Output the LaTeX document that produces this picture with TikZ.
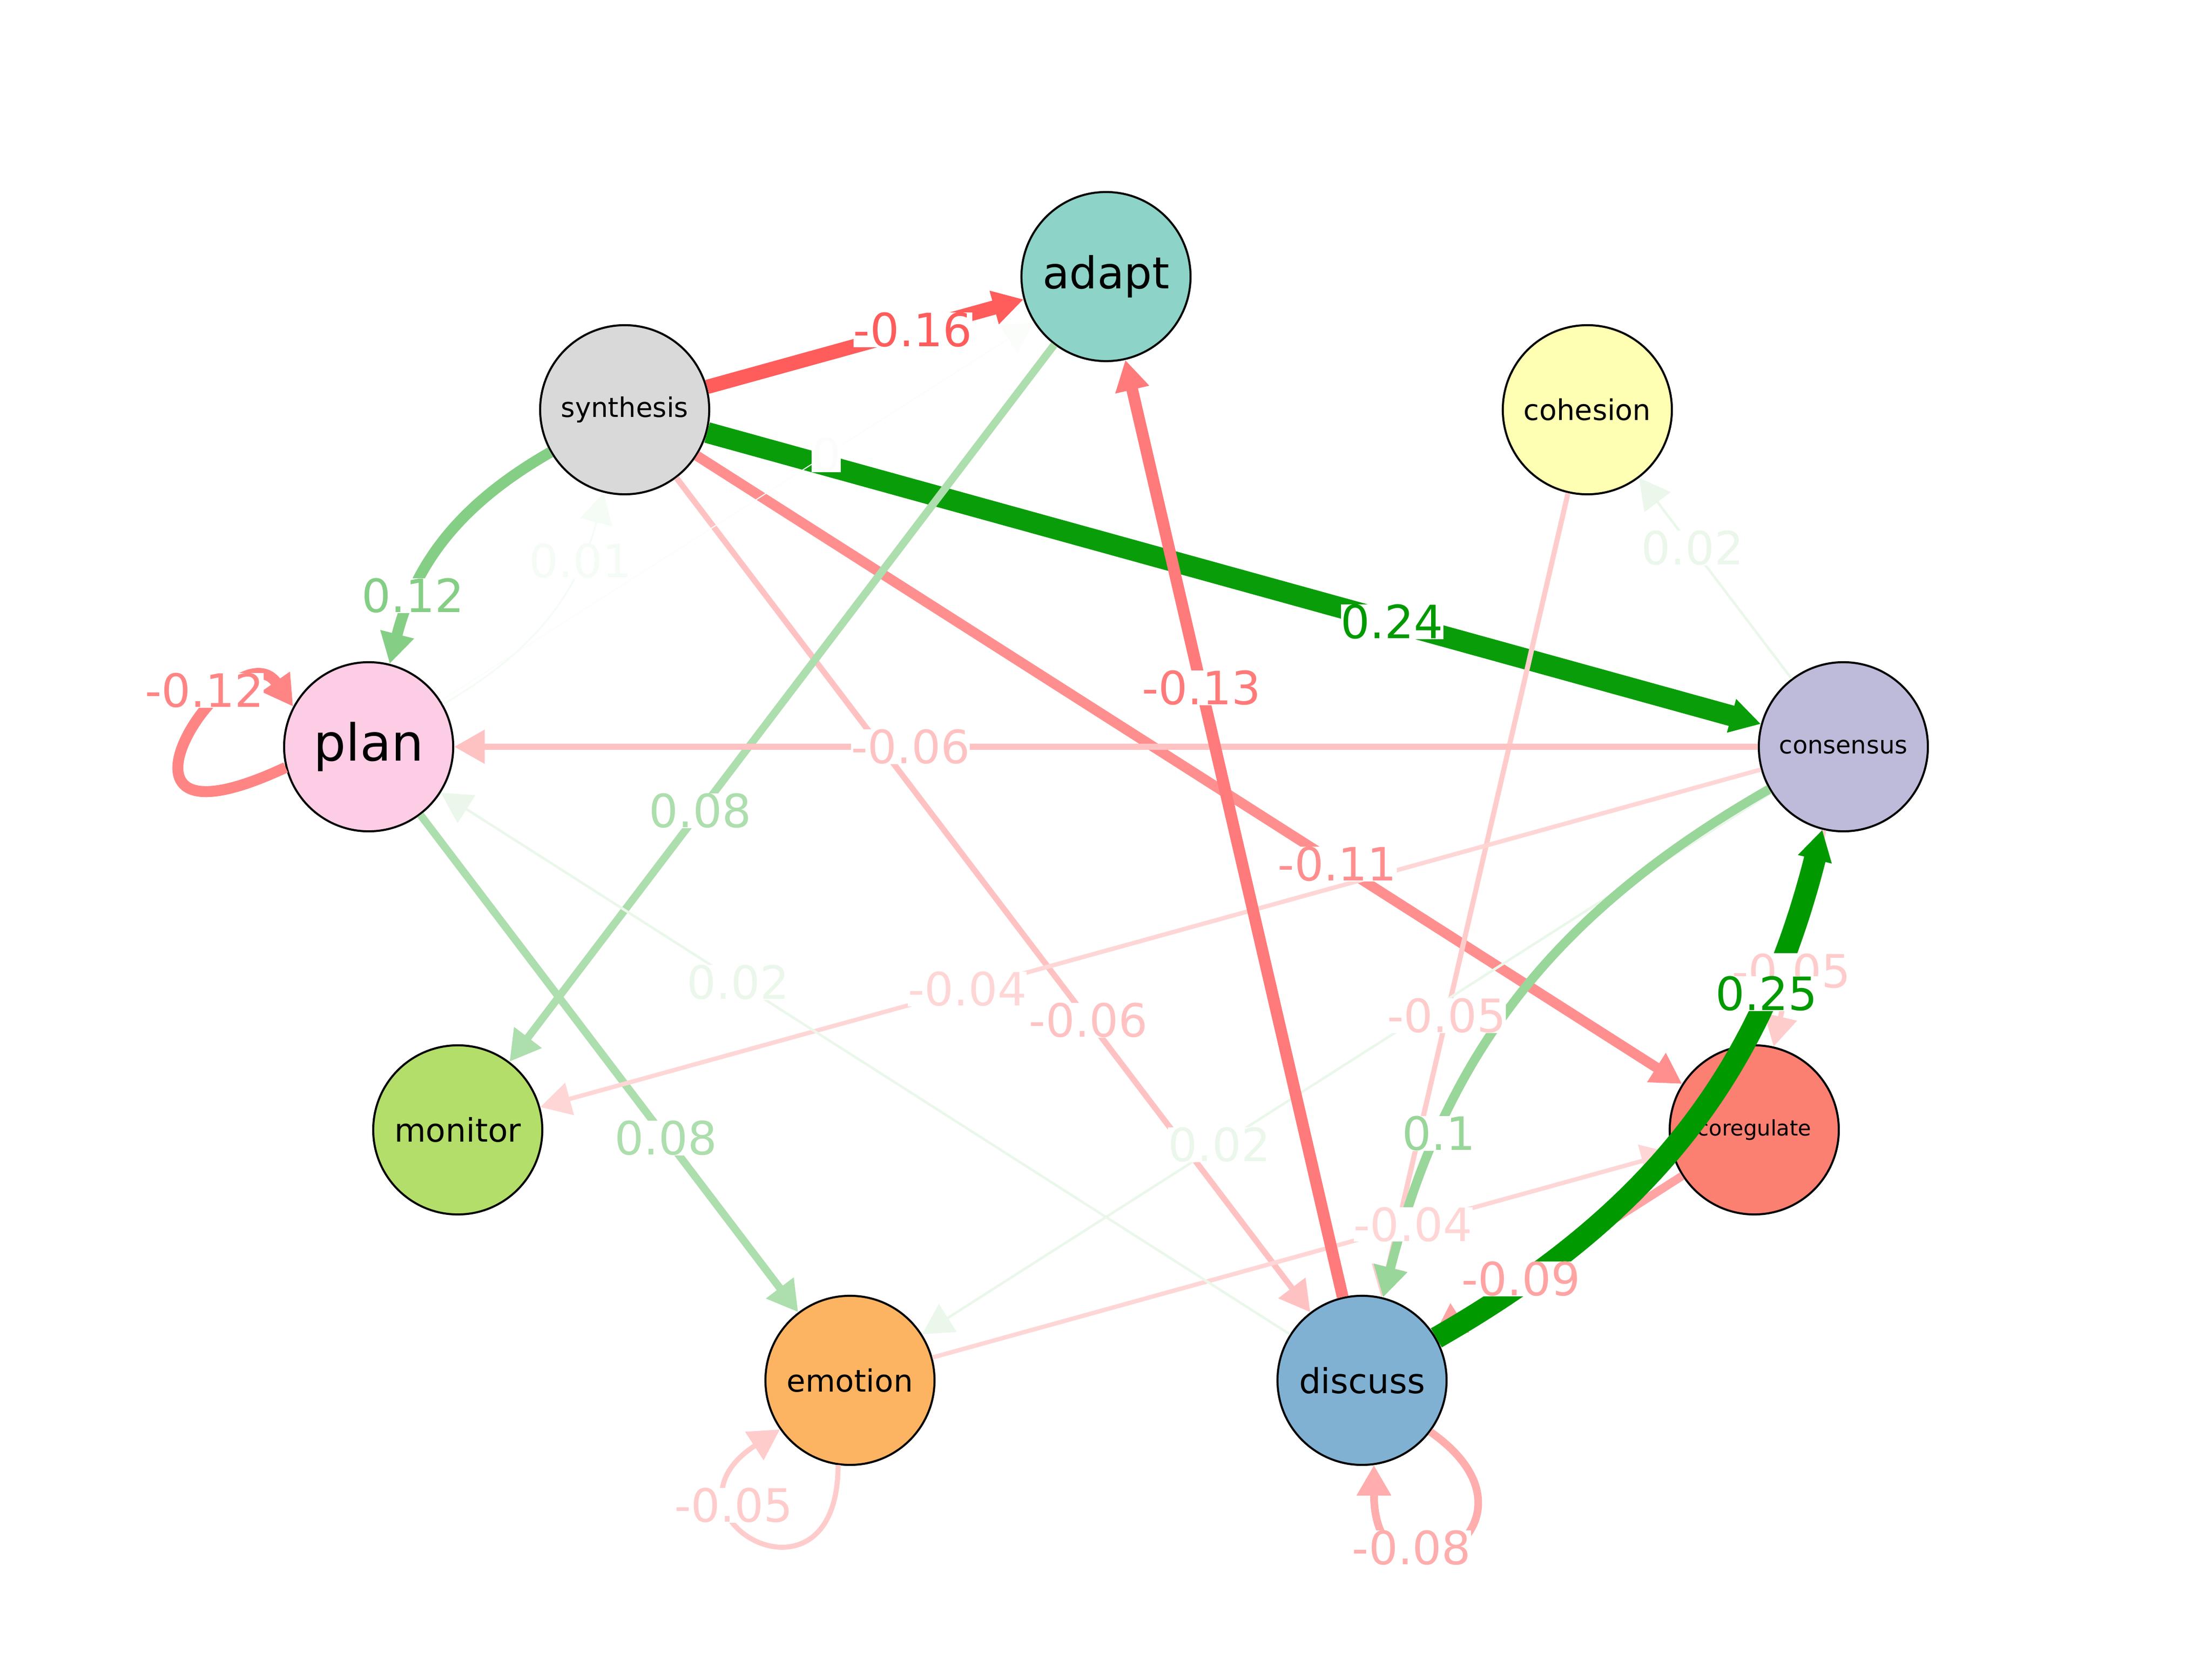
\documentclass[tikz,border=0pt]{standalone}
\usepackage{fontspec}
\setmainfont{DejaVu Sans}
\usepackage{tikz}
\usetikzlibrary{arrows.meta}
\definecolor{posgreen}{HTML}{009900}
\definecolor{negred}{HTML}{FF0000}
\definecolor{adaptfill}{HTML}{8DD3C7}
\definecolor{cohesionfill}{HTML}{FFFFB3}
\definecolor{consensusfill}{HTML}{BEBADA}
\definecolor{coregulatefill}{HTML}{FB8072}
\definecolor{discussfill}{HTML}{80B1D3}
\definecolor{emotionfill}{HTML}{FDB462}
\definecolor{monitorfill}{HTML}{B3DE69}
\definecolor{planfill}{HTML}{FCCDE5}
\definecolor{synthesisfill}{HTML}{D9D9D9}
\begin{document}
\begin{tikzpicture}[x=0.7056cm,y=0.7056cm,
	state/.style={circle,draw=black,line width=0.8pt,minimum size=2.33cm,inner sep=0pt},
	link/.style={-{Triangle[length=4.2mm,width=4.5mm]}},
	weight/.style={fill=white,inner sep=0pt,font=\fontsize{18}{18}\selectfont}]
	\useasboundingbox (0,0) rectangle (43.2,32.4);
	% states
	\node[state,fill=adaptfill,font=\fontsize{17.2}{17.2}\selectfont] (adapt) at (21.6,27.0) {adapt};
	\node[state,fill=synthesisfill,font=\fontsize{10.6}{10.6}\selectfont] (synthesis) at (12.2,24.4) {synthesis};
	\node[state,fill=cohesionfill,font=\fontsize{11.2}{11.2}\selectfont] (cohesion) at (31.0,24.4) {cohesion};
	\node[state,fill=planfill,font=\fontsize{20}{20}\selectfont] (plan) at (7.2,17.82) {plan};
	\node[state,fill=consensusfill,font=\fontsize{9.6}{9.6}\selectfont] (consensus) at (36.0,17.82) {consensus};
	\node[state,fill=monitorfill,font=\fontsize{12.7}{12.7}\selectfont] (monitor) at (8.94,10.34) {monitor};
	\node[state,fill=coregulatefill,font=\fontsize{8.4}{8.4}\selectfont] (coregulate) at (34.26,10.34) {coregulate};
	\node[state,fill=emotionfill,font=\fontsize{12}{12}\selectfont] (emotion) at (16.6,5.45) {emotion};
	\node[state,fill=discussfill,font=\fontsize{13.5}{13.5}\selectfont] (discuss) at (26.6,5.45) {discuss};
	% edges
	\draw[link,negred!64!white,line width=5.6pt] (synthesis) -- (adapt);
	\draw[link,posgreen!48!white,line width=4.3pt] (synthesis) to[bend right=23] (plan);
	\draw[link,negred!24!white,line width=2.3pt] (synthesis) -- (discuss);
	\draw[link,negred!44!white,line width=4pt] (synthesis) -- (coregulate);
	\draw[link,posgreen!96!white,line width=8.2pt] (synthesis) -- (consensus);
	\draw[link,posgreen!2!white,line width=0.4pt] (plan) -- (adapt);
	\draw[link,posgreen!4!white,line width=0.7pt] (plan) to[bend right=23] (synthesis);
	\draw[link,posgreen!32!white,line width=3pt] (plan) -- (emotion);
	\draw[link,negred!48!white,line width=4.3pt] (plan.194) .. controls +(205:4.6) and +(125:2) .. (plan.152);
	\draw[link,posgreen!32!white,line width=3pt] (adapt) -- (monitor);
	\draw[link,negred!20!white,line width=2pt] (cohesion) -- (discuss);
	\draw[link,negred!24!white,line width=2.3pt] (consensus) -- (plan);
	\draw[link,negred!16!white,line width=1.7pt] (consensus) -- (monitor);
	\draw[link,posgreen!8!white,line width=1pt] (consensus) -- (cohesion);
	\draw[link,posgreen!8!white,line width=1pt] (consensus) -- (emotion);
	\draw[link,negred!20!white,line width=2pt] (consensus) -- (coregulate);
	\draw[link,posgreen!40!white,line width=3.6pt] (consensus) to[bend right=23] (discuss);
	\draw[link,negred!16!white,line width=1.7pt] (emotion) -- (coregulate);
	\draw[link,negred!20!white,line width=2pt] (emotion.262) .. controls +(270:3.1) and +(213:3.1) .. (emotion.215);
	\draw[link,negred!36!white,line width=3.3pt] (coregulate) -- (discuss);
	\draw[link,negred!52!white,line width=4.6pt] (discuss) -- (adapt);
	\draw[link,posgreen!8!white,line width=1pt] (discuss) -- (plan);
	\draw[link,negred!32!white,line width=3pt] (discuss.323) .. controls +(-35:3.2) and +(270:3.2) .. (discuss.278);
	\draw[link,posgreen,line width=8.6pt] (discuss) to[bend right=23] (consensus);
	% weights
	\path (synthesis) -- node[weight,pos=.65,text=negred!64!white] {-0.16} (adapt);
	\path (synthesis) to[bend right=23] node[weight,pos=.75,text=posgreen!48!white] {0.12} (plan);
	\path (synthesis) -- node[weight,pos=.65,text=negred!24!white] {-0.06} (discuss);
	\path (synthesis) -- node[weight,pos=.65,text=negred!44!white] {-0.11} (coregulate);
	\path (synthesis) -- node[weight,pos=.65,text=posgreen] {0.24} (consensus);
	\path (plan) -- node[weight,pos=.65,text=posgreen!2!white] {0} (adapt);
	\path (plan) to[bend right=23] node[weight,pos=.75,text=posgreen!4!white] {0.01} (synthesis);
	\path (plan) -- node[weight,pos=.65,text=posgreen!32!white] {0.08} (emotion);
	\path (plan.194) .. controls +(205:4.6) and +(125:2) .. (plan.152) node[weight,pos=.64,xshift=-1mm,yshift=3mm,text=negred!48!white] {-0.12};
	\path (adapt) -- node[weight,pos=.65,text=posgreen!32!white] {0.08} (monitor);
	\path (cohesion) -- node[weight,pos=.65,text=negred!20!white] {-0.05} (discuss);
	\path (consensus) -- node[weight,pos=.65,text=negred!24!white] {-0.06} (plan);
	\path (consensus) -- node[weight,pos=.65,text=negred!16!white] {-0.04} (monitor);
	\path (consensus) -- node[weight,pos=.65,text=posgreen!8!white] {0.02} (cohesion);
	\path (consensus) -- node[weight,pos=.65,text=posgreen!8!white] {0.02} (emotion);
	\path (consensus) -- node[weight,pos=.65,text=negred!20!white] {-0.05} (coregulate);
	\path (consensus) to[bend right=23] node[weight,pos=.75,text=posgreen!40!white] {0.1} (discuss);
	\path (emotion) -- node[weight,pos=.65,text=negred!16!white] {-0.04} (coregulate);
	\path (emotion.262) .. controls +(270:3.1) and +(213:3.1) .. (emotion.215) node[weight,pos=.7,text=negred!20!white] {-0.05};
	\path (coregulate) -- node[weight,pos=.65,text=negred!36!white] {-0.09} (discuss);
	\path (discuss) -- node[weight,pos=.65,text=negred!52!white] {-0.13} (adapt);
	\path (discuss) -- node[weight,pos=.65,text=posgreen!8!white] {0.02} (plan);
	\path (discuss.323) .. controls +(-35:3.2) and +(270:3.2) .. (discuss.278) node[weight,pos=.7,text=negred!32!white] {-0.08};
	\path (discuss) to[bend right=23] node[weight,pos=.75,text=posgreen] {0.25} (consensus);
\end{tikzpicture}
\end{document}
